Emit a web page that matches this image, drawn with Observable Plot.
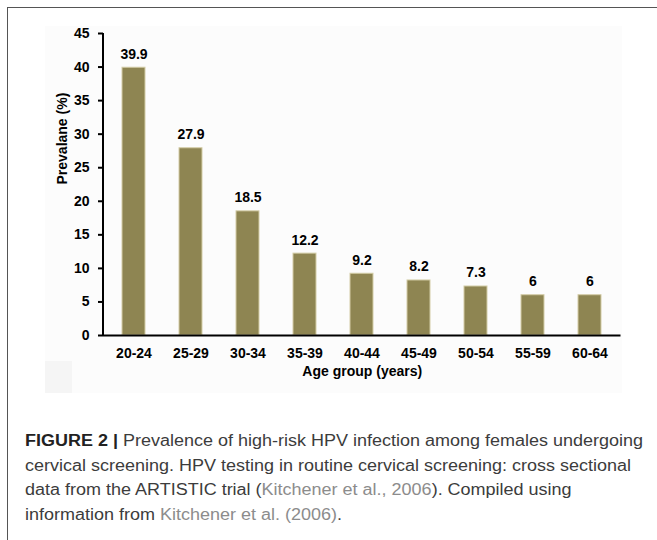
<!DOCTYPE html>
<html><head><meta charset="utf-8">
<script src="https://cdn.jsdelivr.net/npm/d3@7"></script>
<script src="https://cdn.jsdelivr.net/npm/@observablehq/plot@0.6"></script>
<style>
html,body{margin:0;padding:0;background:#fff;overflow:hidden;width:657px;height:540px;}
#frame{position:absolute;left:7px;top:7px;width:800px;height:800px;border-left:1.5px solid #555;border-top:1.5px solid #555;}
#bg{position:absolute;left:45px;top:26px;width:577px;height:367px;background:#fcfcfc;}
#bg2{position:absolute;left:45px;top:361px;width:27px;height:32px;background:#f5f5f5;}
#chart{position:absolute;left:0;top:0;}
#caption{position:absolute;left:25px;top:429px;font-family:"Liberation Sans",Arial,sans-serif;font-size:16px;line-height:24.5px;color:#3c3c3c;white-space:nowrap;transform-origin:0 0;}
#caption b{color:#222;}
#caption .ref{color:#8c8c8c;}
svg [aria-label="y-axis tick"] path, svg [aria-label="y-axis"] .tick line{stroke-width:2;}
</style></head><body>
<div id="frame"></div>
<div id="bg"></div>
<div id="bg2"></div>
<div id="chart"></div>
<div id="caption">
<div><span id="l1"><b>FIGURE 2 |</b> Prevalence of high-risk HPV infection among females undergoing</span></div>
<div><span>cervical screening. HPV testing in routine cervical screening: cross sectional</span></div>
<div><span>data from the ARTISTIC trial (<span class="ref">Kitchener et al., 2006</span>). Compiled using</span></div>
<div><span>information from <span class="ref">Kitchener et al. (2006)</span>.</span></div>
</div>
<script>
const ageGroups = ["20-24","25-29","30-34","35-39","40-44","45-49","50-54","55-59","60-64"];
const prevalence = [39.9, 27.9, 18.5, 12.2, 9.2, 8.2, 7.3, 6, 6];
const yTicks = [0,5,10,15,20,25,30,35,40,45];
const yDomain = [0,45];
const yLabel = "Prevalane (%)";
const xLabel = "Age group (years)";

const data = ageGroups.map((g,i)=>({group:g, value:prevalence[i]}));

function yAxisLine(...args){
  const scales = args.find(a => a && typeof a.y === "function");
  const dims = args.find(a => a && a.marginLeft !== undefined && a.width !== undefined);
  const ns = "http://www.w3.org/2000/svg";
  const line = document.createElementNS(ns, "line");
  line.setAttribute("x1", dims.marginLeft);
  line.setAttribute("x2", dims.marginLeft);
  line.setAttribute("y1", scales.y(yDomain[0]) + 1);
  line.setAttribute("y2", scales.y(yDomain[1]));
  line.setAttribute("stroke", "#000");
  line.setAttribute("stroke-width", 2);
  return line;
}

const chart = Plot.plot({
  width: 657,
  height: 400,
  marginLeft: 103,
  marginRight: 36.5,
  marginTop: 33,
  marginBottom: 65,
  style: {background: "transparent", fontFamily: "'Liberation Sans', Arial, sans-serif", fontSize: "14px", fontWeight: "bold", color: "#000"},
  x: {domain: ageGroups, paddingInner: 0.6, paddingOuter: 0.3, tickSize: 0, tickPadding: 13, label: null},
  y: {domain: yDomain, ticks: yTicks, tickSize: 5, tickPadding: 9, label: null},
  marks: [
    Plot.barY(data, {x: "group", y: "value", fill: "#8e8552", stroke: "#d3cca6", strokeWidth: 1}),
    Plot.ruleY([0], {stroke: "#000", strokeWidth: 2}),
    yAxisLine,
    Plot.text(data, {x: "group", y: "value", text: d => String(d.value), dy: -13.5, fontWeight: "bold", fontSize: 14, fill: "#000"}),
    Plot.text([yLabel], {frameAnchor: "left", rotate: -90, dx: -41, fontWeight: "bold", fontSize: 14, fill: "#000"}),
    Plot.text([xLabel], {frameAnchor: "bottom", dy: 40, fontWeight: "bold", fontSize: 14, fill: "#000"})
  ]
});
document.getElementById("chart").appendChild(chart);

const cap = document.getElementById("caption");
const w = document.getElementById("l1").getBoundingClientRect().width;
cap.style.transform = `scaleX(${618 / w})`;
</script>
</body></html>
